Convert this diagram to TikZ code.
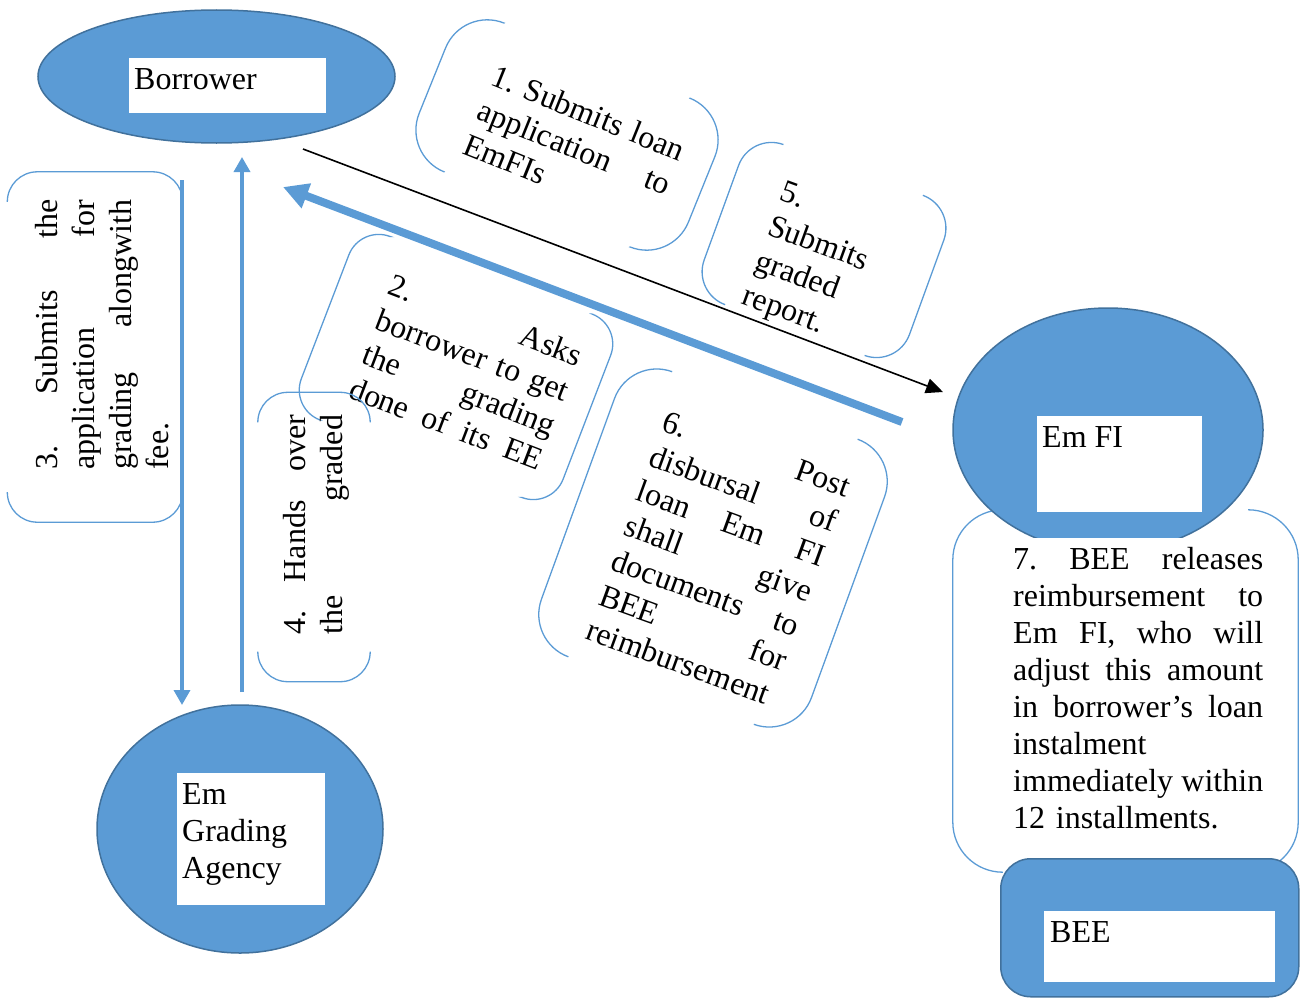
\documentclass[tikz,border=0pt]{standalone}
\usepackage{fontspec}
\setmainfont{Liberation Serif}
\usetikzlibrary{shapes.geometric,arrows.meta,calc}

\definecolor{boxblue}{HTML}{5B9BD5}
\definecolor{rimblue}{HTML}{41719C}

\newcommand{\bracketpair}[2]{%
  \draw[bracket, rounded corners=#2] ($(#1.north west)!#2!(#1.north east)$) -- (#1.north west) -- (#1.south west) -- ($(#1.south west)!#2!(#1.south east)$);
  \draw[bracket, rounded corners=#2] ($(#1.north east)!#2!(#1.north west)$) -- (#1.north east) -- (#1.south east) -- ($(#1.south east)!#2!(#1.south west)$);}

\begin{document}
\begin{tikzpicture}[x=1pt,y=-1pt]
   \tikzstyle{every node}=[font=\fontsize{32}{37}\selectfont\frenchspacing]
   \tikzstyle{noteframe}=[rectangle, draw=none, inner sep=0pt]
   \tikzstyle{bracket}=[draw=boxblue, line width=1.3pt]
   \tikzstyle{notetext}=[inner sep=0pt, align=left, anchor=north west]
   \tikzstyle{party}=[ellipse, draw=rimblue, line width=1.5pt, fill=boxblue, inner sep=0pt]
   \tikzstyle{namebox}=[fill=white, inner sep=0pt, anchor=north west]
   \tikzstyle{nametext}=[inner sep=0pt, align=left, anchor=north west]
   \tikzstyle{flow}=[draw=boxblue, line width=3.5pt, -{Triangle[length=15pt,width=16pt]}]
   \tikzstyle{bigflow}=[draw=boxblue, line width=8pt, -{Triangle[length=25pt,width=25pt]}]
   \tikzstyle{loanflow}=[draw=black, line width=1.6pt, -{Triangle[length=17pt,width=15pt]}]

\useasboundingbox (0,0) rectangle (1300,998);

\begin{scope}[shift={(567,135)}, rotate=-22, transform shape]
  \node[noteframe, minimum width=290pt, minimum height=160pt] (f1) at (0,0) {};
  \node[notetext, text width=205pt] (note1) at (-91,-40) {\mbox{1. Submits loan}\\ application\hfill to\\ EmFIs};
\end{scope}
\bracketpair{f1}{45pt}

\begin{scope}[shift={(456,367)}, rotate=-21, transform shape]
  \node[noteframe, minimum width=280pt, minimum height=196pt] (f2) at (0,0) {};
  \node[notetext, text width=204pt] (note2) at (-91,-66) {2.\hfill Asks\\ borrower\hfill to\hfill get\\ the\hfill grading\\ done\hfill of\hfill its\hfill EE};
\end{scope}
\bracketpair{f2}{32pt}

\begin{scope}[shift={(95,347)}, rotate=90, transform shape]
  \node[noteframe, minimum width=350pt, minimum height=175pt] (f3) at (0,0) {};
  \node[notetext, text width=270pt] (note3) at (-123,-60) {3.\hfill Submits\hfill the\\ application\hfill for\\ grading\hfill alongwith\\ fee.};
\end{scope}
\bracketpair{f3}{30pt}

\begin{scope}[shift={(314,537)}, rotate=90, transform shape]
  \node[noteframe, minimum width=289pt, minimum height=112pt] (f4) at (0,0) {};
  \node[notetext, text width=220pt] (note4) at (-98,-31) {4.\hfill Hands\hfill over\\ the\hfill graded};
\end{scope}
\bracketpair{f4}{30pt}

\begin{scope}[shift={(824,250)}, rotate=-20, transform shape]
  \node[noteframe, minimum width=218pt, minimum height=170pt] (f5) at (0,0) {};
  \node[notetext, text width=112pt] (note5) at (-60,-53) {5.\\ Submits\\ graded\\ report.};
\end{scope}
\bracketpair{f5}{35pt}

\begin{scope}[shift={(713,548)}, rotate=-20, transform shape]
  \node[noteframe, minimum width=287pt, minimum height=303pt] (f6) at (0,0) {};
  \node[notetext, text width=197pt] (note6) at (-90,-114) {6.\hfill Post\\ disbursal\hfill of\\ loan\hfill Em\hfill FI\\ shall\hfill give\\ documents\hfill to\\ BEE\hfill for\\ reimbursement};
\end{scope}
\bracketpair{f6}{45pt}

\coordinate (loanstart) at (303,149);
\coordinate (loanend) at (943,392);
\draw[loanflow] (loanstart) -- (loanend);
\coordinate (reportstart) at (902,422);
\coordinate (reportend) at (283,187);
\draw[bigflow] (reportstart) -- (reportend);
\coordinate (feestart) at (182,180);
\coordinate (feeend) at (182,705);
\draw[flow] (feestart) -- (feeend);
\coordinate (gradestart) at (242,692);
\coordinate (gradeend) at (242,157);
\draw[flow] (gradestart) -- (gradeend);

\node[party, minimum width=357pt, minimum height=133pt] (borrower) at (216.5,76.5) {};
\node[namebox, minimum width=197pt, minimum height=55pt] (borrowerbox) at (129,58) {};
\node[nametext] (borrowertext) at (134,68) {Borrower};

\node[party, minimum width=286pt, minimum height=248pt] (agency) at (240,829) {};
\node[namebox, minimum width=148pt, minimum height=132pt] (agencybox) at (177,773) {};
\node[nametext] (agencytext) at (182,783) {Em\\ Grading\\ Agency};

\node[noteframe, minimum width=345pt, minimum height=362pt] (f7) at (1125.5,691) {};
\bracketpair{f7}{50pt}

\node[party, minimum width=310pt, minimum height=244pt] (emfi) at (1108,430) {};
\node[namebox, minimum width=165pt, minimum height=96pt] (emfibox) at (1037,416) {};
\node[nametext] (emfitext) at (1042,426) {Em FI};

\node[notetext, fill=white, inner xsep=10pt, inner ysep=9pt, text width=250pt] (note7) at (1003,538) {7.\hfill BEE\hfill releases\\ reimbursement\hfill to\\ Em\hfill FI,\hfill who\hfill will\\ adjust\hfill this\hfill amount\\ in\hfill borrower’s\hfill loan\\ instalment\\ immediately\hfill within\\ 12 installments.};

\node[rectangle, rounded corners=30pt, draw=rimblue, fill=boxblue, line width=1.5pt, minimum width=298pt, minimum height=138pt, anchor=north west] (bee) at (1000,858) {};
\node[namebox, minimum width=231pt, minimum height=71pt] (beebox) at (1044,911) {};
\node[nametext] (beetext) at (1050,921) {BEE};

\end{tikzpicture}
\end{document}
